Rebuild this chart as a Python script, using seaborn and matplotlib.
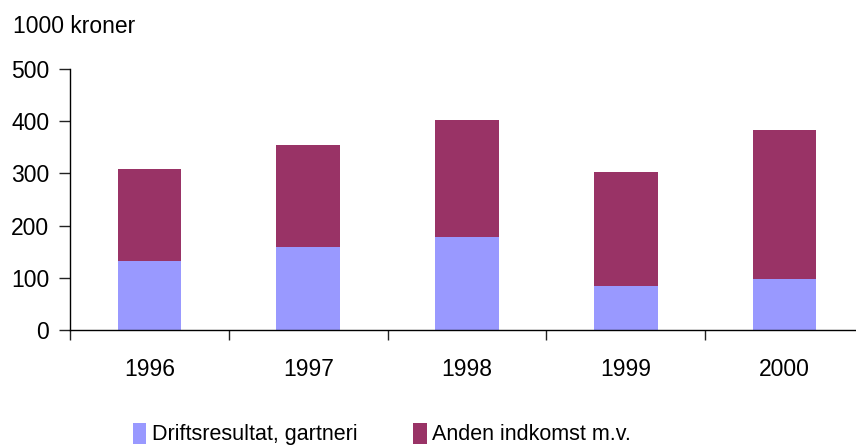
import numpy as np
import pandas as pd
import matplotlib.pyplot as plt
import seaborn as sns
from matplotlib.ticker import FixedLocator

years = ['1996', '1997', '1998', '1999', '2000']
drift = [132, 159, 179, 84, 98]          # Driftsresultat, gartneri
anden = [176, 195, 223, 219, 285]        # Anden indkomst m.v.

colors = {'Driftsresultat, gartneri': '#9999FF',
          'Anden indkomst m.v.': '#993366'}

df = pd.DataFrame({'Year': years, 'Drift': drift, 'Anden': anden})
df['Total'] = df['Drift'] + df['Anden']

sns.set_style('white')
plt.rcParams['font.family'] = ['Liberation Sans', 'DejaVu Sans']
plt.rcParams['text.color'] = 'black'
plt.rcParams['xtick.color'] = 'black'
plt.rcParams['ytick.color'] = 'black'

fig = plt.figure(figsize=(8.56, 4.46), dpi=100)
ax = fig.add_axes([70 / 856, 116 / 446, 794 / 856, 261 / 446])

sns.barplot(data=df, x='Year', y='Total', color=colors['Anden indkomst m.v.'],
            width=0.4, saturation=1, linewidth=0, label='Anden indkomst m.v.', ax=ax)
sns.barplot(data=df, x='Year', y='Drift', color=colors['Driftsresultat, gartneri'],
            width=0.4, saturation=1, linewidth=0, label='Driftsresultat, gartneri', ax=ax)

ax.set_ylim(0, 500)
ax.set_xlim(-0.5, len(years) - 0.5)
ax.set_yticks([0, 100, 200, 300, 400, 500])
ax.set_xlabel('')
ax.set_ylabel('')
ax.xaxis.set_minor_locator(FixedLocator(np.arange(-0.5, len(years), 1.0)))
ax.tick_params(axis='x', which='major', length=0, pad=20, labelsize=16.5)
ax.tick_params(axis='x', which='minor', length=7, width=1, color='#222222',
               direction='out', bottom=True)
ax.tick_params(axis='y', length=8, width=1, color='#222222', direction='out',
               pad=7, labelsize=16.5, left=True)
sns.despine(ax=ax, top=True, right=True)
for s in ['left', 'bottom']:
    ax.spines[s].set_color('black')
    ax.spines[s].set_linewidth(1)

fig.text(13 / 856, 1 - 33 / 446, '1000 kroner', fontsize=16.5,
         va='baseline', ha='left')

handles, labels = ax.get_legend_handles_labels()
if ax.get_legend() is not None:
    ax.get_legend().remove()
order = [labels.index('Driftsresultat, gartneri'), labels.index('Anden indkomst m.v.')]
leg = fig.legend([handles[i] for i in order], [labels[i] for i in order],
                 loc='center left', bbox_to_anchor=(133 / 856, 1 - 434 / 446),
                 ncol=2, frameon=False, fontsize=15.5, borderaxespad=0, borderpad=0,
                 handlelength=0.62, handleheight=1.15, handletextpad=0.25,
                 columnspacing=2.6)

fig.savefig('out.png', dpi=100)
